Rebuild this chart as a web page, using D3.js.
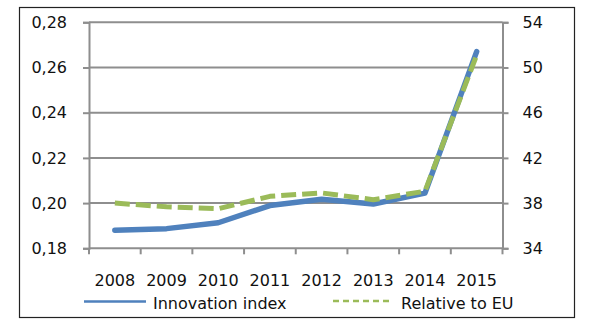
<!DOCTYPE html>
<html><head><meta charset="utf-8">
<script src="https://cdn.jsdelivr.net/npm/d3@7"></script>
<style>body{margin:0;background:#fff}svg{display:block}text{font-family:"DejaVu Sans",sans-serif;fill:#111}</style>
</head><body><svg id="c" width="589" height="326"></svg>
<script>
const years = ["2008","2009","2010","2011","2012","2013","2014","2015"];
const innovationIndex = [0.188, 0.1887, 0.1913, 0.1989, 0.2017, 0.1996, 0.2044, 0.2670];
const relativeToEU = [38.0, 37.67, 37.5, 38.6, 38.9, 38.3, 39.05, 51.1];
const leftTicks = [0.18, 0.20, 0.22, 0.24, 0.26, 0.28];
const rightTicks = [34, 38, 42, 46, 50, 54];
const seriesNames = ["Innovation index", "Relative to EU"];

const svg = d3.select("#c");
const L = 89, R = 502.5, T = 22.3, B = 248.3;
const x = d3.scaleBand().domain(years).range([L, R]);
const yL = d3.scaleLinear().domain([0.18, 0.28]).range([B, T]);
const yR = d3.scaleLinear().domain([34, 54]).range([B, T]);
const grey = "#8e8e8e";

svg.append("rect").attr("x", 19.5).attr("y", 7.5).attr("width", 555).attr("height", 310)
  .attr("fill", "none").attr("stroke", "#222").attr("stroke-width", 1.2);

// gridlines
svg.append("g").selectAll("line").data(leftTicks.slice(1)).join("line")
  .attr("x1", L).attr("x2", R).attr("y1", d => yL(d)).attr("y2", d => yL(d))
  .attr("stroke", grey).attr("stroke-width", 2);

// left axis
const gl = svg.append("g").attr("transform", `translate(${L},0)`)
  .call(d3.axisLeft(yL).tickValues(leftTicks).tickFormat(d => d3.format(".2f")(d).replace(".", ",")).tickSize(6).tickPadding(16));
// right axis
const gr = svg.append("g").attr("transform", `translate(${R},0)`)
  .call(d3.axisRight(yR).tickValues(rightTicks).tickSize(6).tickPadding(14));
// bottom axis
const gb = svg.append("g").attr("transform", `translate(0,${B})`)
  .call(d3.axisBottom(x).tickSize(0).tickPadding(26));
svg.append("g").selectAll("line").data(years.concat(["end"])).join("line")
  .attr("x1", (d, i) => L + i * x.step()).attr("x2", (d, i) => L + i * x.step())
  .attr("y1", B).attr("y2", B + 6).attr("stroke", grey).attr("stroke-width", 2);

[gl, gr, gb].forEach(g => {
  g.selectAll(".domain").attr("stroke", grey).attr("stroke-width", 2);
  g.selectAll(".tick line").attr("stroke", grey).attr("stroke-width", 2);
  g.selectAll("text").attr("font-size", 16).attr("font-family", "DejaVu Sans").attr("fill", "#111");
});
gb.select(".domain").attr("d", `M${L},0H${R}`);

// lines
const cx = d => x(d) + x.bandwidth() / 2;
const lineL = d3.line().x((d, i) => cx(years[i])).y(d => yL(d));
const lineR = d3.line().x((d, i) => cx(years[i])).y(d => yR(d));
svg.append("path").datum(innovationIndex).attr("d", lineL)
  .attr("fill", "none").attr("stroke", "#4f81bd").attr("stroke-width", 5.5)
  .attr("stroke-linejoin", "round").attr("stroke-linecap", "round");
svg.append("path").datum(relativeToEU).attr("d", lineR)
  .attr("fill", "none").attr("stroke", "#9bbb59").attr("stroke-width", 5)
  .attr("stroke-dasharray", "15,6").attr("stroke-linejoin", "round");

// legend
const lg = svg.append("g");
lg.append("line").attr("x1", 84).attr("x2", 146).attr("y1", 301.5).attr("y2", 301.5)
  .attr("stroke", "#4f81bd").attr("stroke-width", 2.5);
lg.append("text").attr("x", 153).attr("y", 309).attr("font-size", 16).text(seriesNames[0]);
lg.append("line").attr("x1", 333).attr("x2", 392).attr("y1", 301).attr("y2", 301)
  .attr("stroke", "#9bbb59").attr("stroke-width", 2.5).attr("stroke-dasharray", "6,4");
lg.append("text").attr("x", 401).attr("y", 309).attr("font-size", 16).text(seriesNames[1]);
</script></body></html>
